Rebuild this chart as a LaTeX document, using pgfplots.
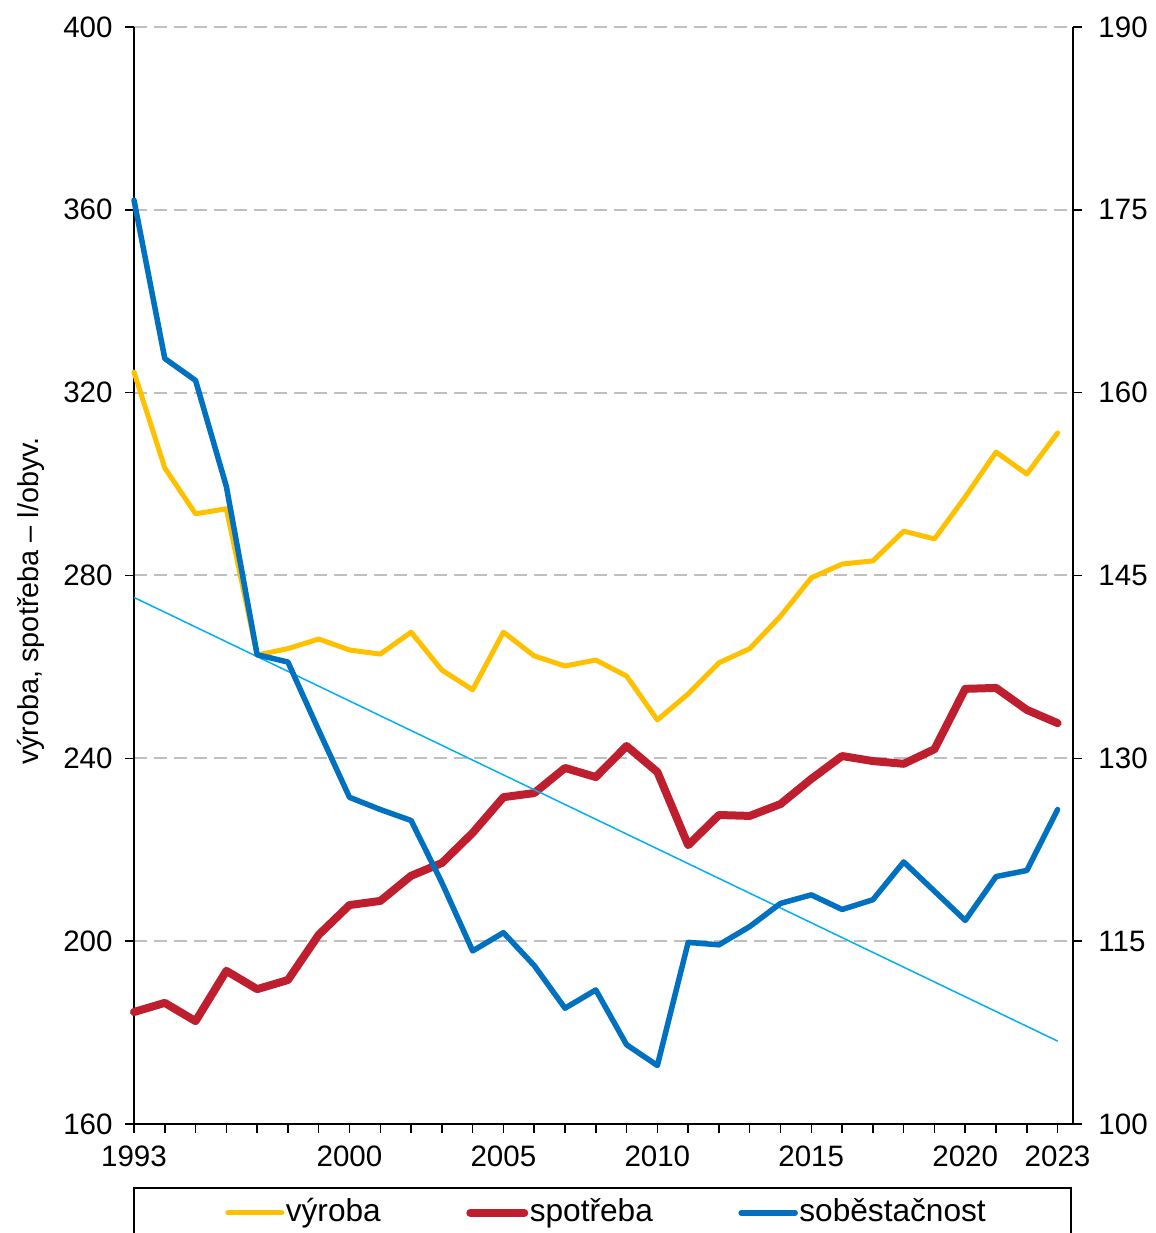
\documentclass[border=0pt]{standalone}
\usepackage{pgfplots}
\pgfplotsset{compat=1.18}
\usepackage{fontspec}
\setmainfont{Liberation Sans}
\definecolor{cyel}{RGB}{255,192,0}
\definecolor{cred}{RGB}{190,30,45}
\definecolor{cblue}{RGB}{0,112,192}
\definecolor{ctrend}{RGB}{0,176,240}
\definecolor{cgrid}{RGB}{191,191,191}
\begin{document}
\begin{tikzpicture}
\pgfplotsset{
  base/.style={scale only axis, width=93.9mm, height=109.7mm, at={(0,0)}, anchor=south west,
    xmin=1993, xmax=2023.5, tick align=outside, major tick length=0.9mm,
    axis line style={-, line width=0.15mm},
    x axis line style={-}, y axis line style={-},
    every tick/.style={black, line width=0.15mm},
    tick label style={font=\fontsize{8.4}{10}\selectfont},
    /pgf/number format/assume math mode=true, clip=false}
}
\begin{axis}[base, ymin=160, ymax=400, ytick={160,200,...,400},
  axis x line*=bottom, axis y line*=left,
  xtick={1993,...,2023},
  xticklabels={1993,,,,,,,2000,,,,,2005,,,,,2010,,,,,2015,,,,,2020,,,2023},
  ymajorgrids, major grid style={cgrid, line width=0.2mm, dash pattern=on 1.3mm off 0.7mm},
  legend style={at={(axis description cs:0.503,-0.081)}, anchor=center, draw=none, fill=none,
    legend columns=3, font=\fontsize{9}{10.8}\selectfont,
    /tikz/every even column/.append style={column sep=8.4mm}, nodes={inner sep=0.15mm}},
  legend cell align=left,
  legend image code/.code={\draw[#1, line cap=round] (0mm,0mm) -- (5.4mm,0mm);}
]
\addplot[cyel, line width=0.5mm, line cap=round, line join=round] coordinates {
(1993,324.5) (1994,303.5) (1995,293.5) (1996,294.6) (1997,262.6) (1998,264.0) (1999,266.1)
(2000,263.7) (2001,262.8) (2002,267.6) (2003,259.3) (2004,255.0) (2005,267.6) (2006,262.4)
(2007,260.2) (2008,261.5) (2009,258.0) (2010,248.4) (2011,254.1) (2012,260.9) (2013,264.0)
(2014,271.1) (2015,279.5) (2016,282.5) (2017,283.2) (2018,289.7) (2019,288.0) (2020,297.2)
(2021,307.0) (2022,302.2) (2023,311.2)};
\addlegendentry{výroba}
\addplot[cred, line width=0.8mm, line cap=round, line join=round] coordinates {
(1993,184.5) (1994,186.5) (1995,182.5) (1996,193.5) (1997,189.5) (1998,191.5) (1999,201.4)
(2000,207.9) (2001,208.8) (2002,214.3) (2003,217.1) (2004,223.7) (2005,231.5) (2006,232.4)
(2007,237.9) (2008,235.9) (2009,242.7) (2010,237.0) (2011,221.0) (2012,227.6) (2013,227.4)
(2014,230.0) (2015,235.5) (2016,240.5) (2017,239.4) (2018,238.8) (2019,242.0) (2020,255.2)
(2021,255.4) (2022,250.6) (2023,247.7)};
\addlegendentry{spotřeba}
\addlegendimage{cblue, line width=0.55mm}
\addlegendentry{soběstačnost}
\end{axis}
\begin{axis}[base, ymin=100, ymax=190, ytick={100,115,...,190},
  axis y line*=right, axis x line=none, yticklabel style={xshift=0.4mm}]
\addplot[ctrend, line width=0.15mm] coordinates {(1993,143.2) (2023,106.8)};
\addplot[cblue, line width=0.55mm, line cap=round, line join=round] coordinates {
(1993,175.8) (1994,162.8) (1995,161.0) (1996,152.3) (1997,138.5) (1998,137.9) (1999,132.3)
(2000,126.8) (2001,125.8) (2002,124.9) (2003,119.8) (2004,114.2) (2005,115.7) (2006,113.0)
(2007,109.5) (2008,111.0) (2009,106.5) (2010,104.8) (2011,114.9) (2012,114.7) (2013,116.2)
(2014,118.1) (2015,118.8) (2016,117.6) (2017,118.4) (2018,121.5) (2019,119.1) (2020,116.7)
(2021,120.3) (2022,120.8) (2023,125.8)};
\end{axis}
\node[rotate=90, font=\fontsize{8.2}{9.8}\selectfont] at (-10.3mm,52.3mm) {výroba, spotřeba – l/obyv.};
\draw[line width=0.2mm] (0,-6.4mm) rectangle (93.7mm,-13mm);
\pgfresetboundingbox
\useasboundingbox (-13.4mm,-10.9mm) rectangle (102.1mm,112.4mm);
\end{tikzpicture}
\end{document}
